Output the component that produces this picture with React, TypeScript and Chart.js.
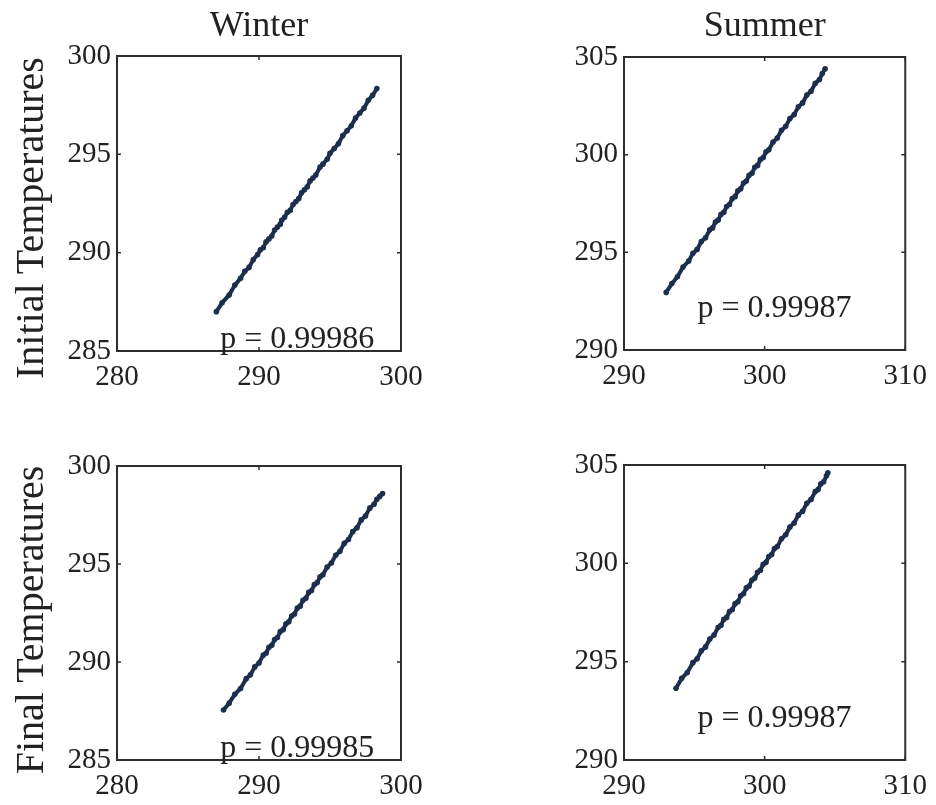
import React, { useEffect, useRef } from "react";
import { Chart, registerables } from "chart.js";
Chart.register(...registerables);

// ---------- data ----------
const seasons = ["Winter", "Summer"];
const rowLabels = ["Initial Temperatures", "Final Temperatures"];
const correlations = ["p = 0.99986", "p = 0.99987", "p = 0.99985", "p = 0.99987"];
// annotation anchor in data units [x, y]
const corrAnchorWinter = [292.7, 285.6];
const corrAnchorSummer = [300.7, 292.1];

const winterTicksX = [280, 290, 300];
const winterTicksY = [285, 290, 295, 300];
const summerTicksX = [290, 300, 310];
const summerTicksY = [290, 295, 300, 305];

const winterInitialX = [287.0, 287.4, 287.9, 288.3, 288.7, 289.0, 289.3, 289.6, 289.9, 290.1, 290.3, 290.5, 290.7, 290.9, 291.1, 291.3, 291.5, 291.6, 291.8, 292.0, 292.2, 292.4, 292.6, 292.8, 293.0, 293.2, 293.4, 293.6, 293.8, 294.0, 294.3, 294.5, 294.8, 295.0, 295.3, 295.6, 295.9, 296.2, 296.5, 296.8, 297.1, 297.4, 297.7, 298.0, 298.3];
const winterInitialY = [287.0, 287.45, 287.85, 288.35, 288.7, 289.05, 289.25, 289.65, 289.9, 290.15, 290.25, 290.55, 290.7, 290.85, 291.15, 291.3, 291.45, 291.65, 291.8, 292.05, 292.15, 292.45, 292.6, 292.75, 293.05, 293.2, 293.35, 293.65, 293.8, 293.95, 294.35, 294.5, 294.75, 295.05, 295.3, 295.55, 295.95, 296.2, 296.45, 296.85, 297.1, 297.35, 297.75, 298.0, 298.35];

const summerInitialX = [293.0, 293.4, 293.8, 294.2, 294.6, 294.9, 295.2, 295.5, 295.8, 296.1, 296.3, 296.5, 296.7, 296.9, 297.1, 297.3, 297.5, 297.7, 297.9, 298.1, 298.3, 298.5, 298.7, 298.9, 299.1, 299.3, 299.5, 299.7, 299.9, 300.1, 300.3, 300.6, 300.9, 301.2, 301.5, 301.8, 302.1, 302.4, 302.7, 303.0, 303.3, 303.6, 303.9, 304.1, 304.3];
const summerInitialY = [292.95, 293.4, 293.75, 294.25, 294.55, 294.95, 295.15, 295.55, 295.75, 296.15, 296.25, 296.55, 296.65, 296.95, 297.05, 297.35, 297.45, 297.75, 297.85, 298.15, 298.25, 298.55, 298.65, 298.95, 299.05, 299.35, 299.45, 299.75, 299.85, 300.15, 300.25, 300.65, 300.85, 301.25, 301.45, 301.85, 302.05, 302.45, 302.65, 303.05, 303.25, 303.65, 303.85, 304.15, 304.4];

const winterFinalX = [287.5, 287.9, 288.3, 288.7, 289.1, 289.4, 289.7, 290.0, 290.3, 290.5, 290.7, 290.9, 291.1, 291.3, 291.5, 291.7, 291.9, 292.1, 292.3, 292.5, 292.7, 292.9, 293.1, 293.3, 293.5, 293.7, 293.9, 294.1, 294.3, 294.5, 294.8, 295.1, 295.4, 295.7, 296.0, 296.3, 296.6, 296.9, 297.2, 297.5, 297.8, 298.1, 298.3, 298.5, 298.7];
const winterFinalY = [287.55, 287.9, 288.35, 288.65, 289.15, 289.35, 289.75, 289.95, 290.35, 290.45, 290.75, 290.85, 291.15, 291.25, 291.55, 291.65, 291.95, 292.05, 292.35, 292.45, 292.75, 292.85, 293.15, 293.25, 293.55, 293.65, 293.95, 294.05, 294.35, 294.45, 294.85, 295.05, 295.45, 295.65, 296.05, 296.25, 296.65, 296.85, 297.25, 297.45, 297.85, 298.05, 298.3, 298.45, 298.6];

const summerFinalX = [293.7, 294.1, 294.5, 294.9, 295.2, 295.5, 295.8, 296.1, 296.4, 296.7, 296.9, 297.1, 297.3, 297.5, 297.7, 297.9, 298.1, 298.3, 298.5, 298.7, 298.9, 299.1, 299.3, 299.5, 299.7, 299.9, 300.1, 300.3, 300.5, 300.7, 300.9, 301.2, 301.5, 301.8, 302.1, 302.4, 302.7, 303.0, 303.3, 303.6, 303.8, 304.0, 304.2, 304.4, 304.5];
const summerFinalY = [293.65, 294.15, 294.45, 294.95, 295.15, 295.55, 295.75, 296.15, 296.35, 296.75, 296.85, 297.15, 297.25, 297.55, 297.65, 297.95, 298.05, 298.35, 298.45, 298.75, 298.85, 299.15, 299.25, 299.55, 299.65, 299.95, 300.05, 300.35, 300.45, 300.75, 300.85, 301.25, 301.45, 301.85, 302.05, 302.45, 302.65, 303.05, 303.25, 303.65, 303.75, 304.05, 304.15, 304.45, 304.6];

// ---------- styling / layout ----------
const FONT = "'Liberation Serif', 'DejaVu Serif', serif";
const TEXT = "#222222";
const MARK = "#1b2f4d";
const FRAME = "#2e2e2e";
const TITLE_SIZE = 36;
const TICK_SIZE = 29;
const NOTE_SIZE = 32;
const LABEL_SIZE = 40;

type Panel = {
  left: number; top: number; w: number; h: number;
  area: { l: number; t: number; r: number; b: number };
  title?: string;
  xs: number[]; ys: number[];
  tx: number[]; ty: number[];
  corr: string; anchor: number[];
};

const panels: Panel[] = [
  { left: 0, top: 0, w: 468, h: 400, area: { l: 117, t: 56, r: 401, b: 351 }, title: seasons[0],
    xs: winterInitialX, ys: winterInitialY, tx: winterTicksX, ty: winterTicksY, corr: correlations[0], anchor: corrAnchorWinter },
  { left: 468, top: 0, w: 468, h: 400, area: { l: 156, t: 57, r: 440, b: 350 }, title: seasons[1],
    xs: summerInitialX, ys: summerInitialY, tx: summerTicksX, ty: summerTicksY, corr: correlations[1], anchor: corrAnchorSummer },
  { left: 0, top: 400, w: 468, h: 405, area: { l: 117, t: 66, r: 401, b: 360 },
    xs: winterFinalX, ys: winterFinalY, tx: winterTicksX, ty: winterTicksY, corr: correlations[2], anchor: corrAnchorWinter },
  { left: 468, top: 400, w: 468, h: 405, area: { l: 156, t: 65, r: 440, b: 360 },
    xs: summerFinalX, ys: summerFinalY, tx: summerTicksX, ty: summerTicksY, corr: correlations[3], anchor: corrAnchorSummer },
];

const framePlugin = {
  id: "frameBox",
  afterDatasetsDraw(chart: any, _args: any, opts: any) {
    const { ctx, chartArea: a, scales } = chart;
    const x = scales.x, y = scales.y;
    ctx.save();
    ctx.strokeStyle = FRAME;
    ctx.lineWidth = 2;
    ctx.strokeRect(a.left, a.top, a.right - a.left, a.bottom - a.top);
    ctx.lineWidth = 1.5;
    const tl = 4;
    ctx.beginPath();
    x.ticks.forEach((t: any) => {
      const px = x.getPixelForValue(t.value);
      ctx.moveTo(px, a.bottom); ctx.lineTo(px, a.bottom - tl);
      ctx.moveTo(px, a.top); ctx.lineTo(px, a.top + tl);
    });
    y.ticks.forEach((t: any) => {
      const py = y.getPixelForValue(t.value);
      ctx.moveTo(a.left, py); ctx.lineTo(a.left + tl, py);
      ctx.moveTo(a.right, py); ctx.lineTo(a.right - tl, py);
    });
    ctx.stroke();
    if (opts && opts.text) {
      ctx.fillStyle = TEXT;
      ctx.font = `${NOTE_SIZE}px ${FONT}`;
      ctx.textAlign = "center";
      ctx.textBaseline = "middle";
      ctx.fillText(opts.text, x.getPixelForValue(opts.x), y.getPixelForValue(opts.y));
    }
    ctx.restore();
  },
};

function makeConfig(p: Panel): any {
  const titleLine = TITLE_SIZE * 1.2;
  return {
    type: "scatter",
    data: {
      datasets: [
        {
          data: p.xs.map((x, i) => ({ x, y: p.ys[i] })),
          showLine: true,
          borderColor: MARK,
          borderWidth: 4,
          backgroundColor: MARK,
          pointRadius: 2.8,
          pointBorderWidth: 0,
          pointBackgroundColor: MARK,
        },
      ],
    },
    plugins: [framePlugin],
    options: {
      responsive: false,
      animation: false,
      devicePixelRatio: 1,
      events: [],
      layout: {
        padding: { left: 0, right: p.w - p.area.r, top: p.title ? 0 : p.area.t, bottom: 0 },
      },
      plugins: {
        legend: { display: false },
        tooltip: { enabled: false },
        title: p.title
          ? {
              display: true,
              text: p.title,
              color: TEXT,
              fullSize: false,
              font: { family: FONT, size: TITLE_SIZE, weight: "normal", lineHeight: 1.2 },
              padding: { top: 5, bottom: p.area.t - 5 - titleLine },
            }
          : { display: false },
        frameBox: { text: p.corr, x: p.anchor[0], y: p.anchor[1] },
      },
      scales: {
        x: {
          type: "linear",
          min: p.tx[0],
          max: p.tx[p.tx.length - 1],
          afterBuildTicks: (s: any) => { s.ticks = p.tx.map((v) => ({ value: v })); },
          afterFit: (s: any) => { s.height = p.h - p.area.b; },
          grid: { display: false, drawTicks: false },
          border: { display: false },
          ticks: { color: TEXT, font: { family: FONT, size: TICK_SIZE }, padding: 9, maxRotation: 0, autoSkip: false },
        },
        y: {
          type: "linear",
          min: p.ty[0],
          max: p.ty[p.ty.length - 1],
          afterBuildTicks: (s: any) => { s.ticks = p.ty.map((v) => ({ value: v })); },
          afterFit: (s: any) => { s.width = p.area.l; },
          grid: { display: false, drawTicks: false },
          border: { display: false },
          ticks: { color: TEXT, font: { family: FONT, size: TICK_SIZE }, padding: 6, autoSkip: false },
        },
      },
    },
  };
}

function PanelChart({ p }: { p: Panel }) {
  const ref = useRef<HTMLCanvasElement>(null);
  useEffect(() => {
    if (!ref.current) return;
    const chart = new Chart(ref.current, makeConfig(p));
    return () => chart.destroy();
  }, [p]);
  return (
    <canvas
      ref={ref}
      width={p.w}
      height={p.h}
      style={{ position: "absolute", left: p.left, top: p.top, width: p.w, height: p.h }}
    />
  );
}

const rowLabelCenters = [218, 620];

export default function App() {
  return (
    <div style={{ position: "absolute", left: 0, top: 0, width: 936, height: 805, background: "#ffffff", overflow: "hidden" }}>
      {panels.map((p, i) => (
        <PanelChart key={i} p={p} />
      ))}
      {rowLabels.map((t, i) => (
        <div
          key={t}
          style={{
            position: "absolute",
            left: 30,
            top: rowLabelCenters[i],
            transform: "translate(-50%, -50%) rotate(-90deg)",
            fontFamily: FONT,
            fontSize: LABEL_SIZE,
            lineHeight: 1,
            color: TEXT,
            whiteSpace: "nowrap",
          }}
        >
          {t}
        </div>
      ))}
    </div>
  );
}
